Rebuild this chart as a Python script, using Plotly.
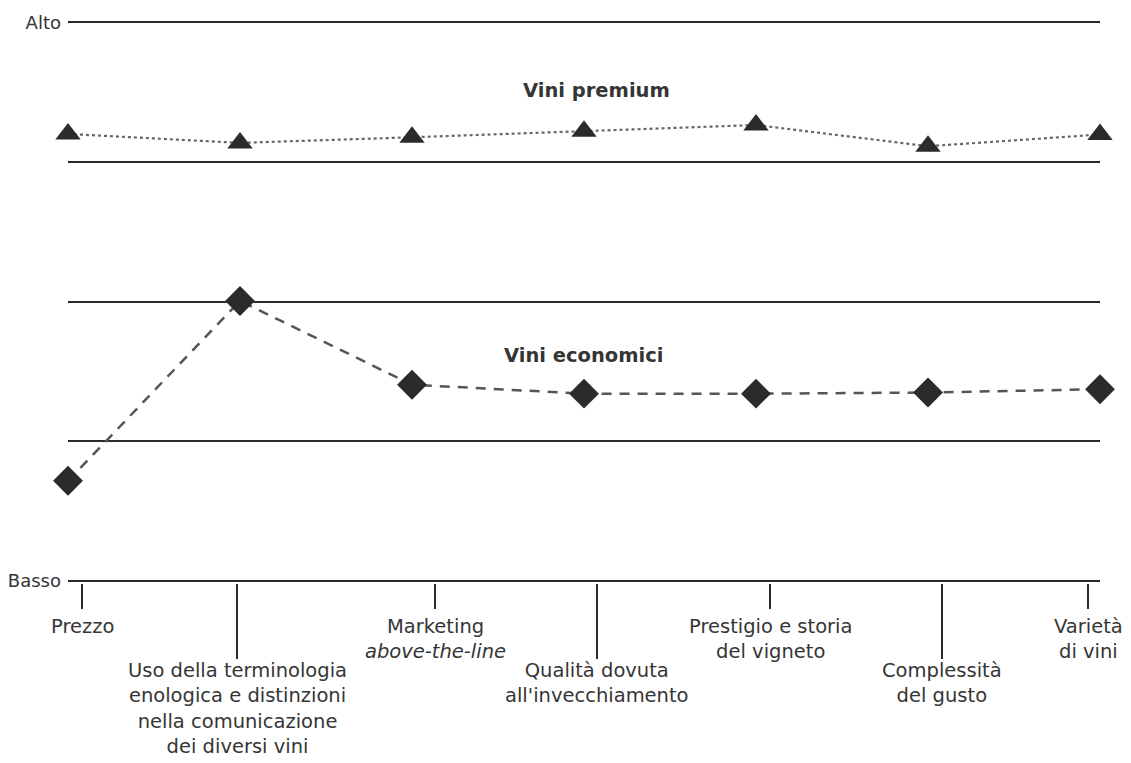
import plotly.graph_objects as go

categories = [
    "Prezzo",
    "Uso della terminologia<br>enologica e distinzioni<br>nella comunicazione<br>dei diversi vini",
    "Marketing<br><i>above-the-line</i>",
    "Qualità dovuta<br>all'invecchiamento",
    "Prestigio e storia<br>del vigneto",
    "Complessità<br>del gusto",
    "Varietà<br>di vini",
]
premium = [8.0, 7.84, 7.94, 8.05, 8.16, 7.78, 7.99]
economici = [1.79, 5.01, 3.51, 3.35, 3.35, 3.37, 3.43]
y_ticks = [0, 2.5, 5, 7.5, 10]
y_ticktext = ["Basso", "", "", "", "Alto"]

x = list(range(len(categories)))
DARK = "#2b2b2b"
TEXT = "#353535"
FONT = "DejaVu Sans"

# label/tick offsets (in category units) as drawn in the original
shifts = [14, -3, 23, 13, 14, 14, -12]
label_pos = [i + s / 172 for i, s in enumerate(shifts)]

fig = go.Figure()
fig.add_trace(go.Scatter(
    x=x, y=premium, mode="lines+markers", name="Vini premium",
    line=dict(color="#666666", width=2.2, dash="dot"),
    marker=dict(symbol="triangle-up", size=22, color=DARK),
    cliponaxis=False,
))
fig.add_trace(go.Scatter(
    x=x, y=economici, mode="lines+markers", name="Vini economici",
    line=dict(color="#555555", width=2.5, dash="10px,8px"),
    marker=dict(symbol="diamond", size=23, color=DARK),
    cliponaxis=False,
))

annotations = [
    dict(x=3.07, y=8.77, xref="x", yref="y", text="<b>Vini premium</b>",
         showarrow=False, font=dict(family=FONT, size=19.5, color=TEXT)),
    dict(x=3.0, y=4.04, xref="x", yref="y", text="<b>Vini economici</b>",
         showarrow=False, font=dict(family=FONT, size=19.5, color=TEXT)),
]
for i, lab in enumerate(categories):
    annotations.append(dict(
        x=label_pos[i], y=-0.053 if i % 2 == 0 else -0.131, xref="x",
        yref="paper", text=lab, showarrow=False, yanchor="top",
        align="center", font=dict(family=FONT, size=19.5, color=TEXT),
    ))

fig.update_layout(
    width=1131, height=763,
    margin=dict(l=68, r=31, t=20, b=180, autoexpand=False),
    paper_bgcolor="white", plot_bgcolor="white",
    showlegend=False,
    annotations=annotations,
    xaxis=dict(
        range=[0, 6], showgrid=False, zeroline=False, showline=False,
        automargin=False,
        tickmode="array", tickvals=label_pos[0::2], showticklabels=False,
        ticks="outside", ticklen=25, tickwidth=2, tickcolor=DARK,
        minor=dict(tickmode="array", tickvals=label_pos[1::2],
                   ticks="outside", ticklen=75, tickwidth=2,
                   tickcolor=DARK, showgrid=False),
    ),
    yaxis=dict(
        range=[-0.04, 10.04], tickmode="array", tickvals=y_ticks,
        ticktext=y_ticktext, automargin=False,
        showgrid=True, gridcolor=DARK, gridwidth=2, zeroline=False,
        showline=False, ticks="", ticklabelstandoff=6,
        tickfont=dict(family=FONT, size=18, color=TEXT),
    ),
)

fig.write_html(
    "out.html",
    config={"displayModeBar": False},
    post_script="document.body.style.margin='0px';document.body.style.overflow='hidden';",
)
